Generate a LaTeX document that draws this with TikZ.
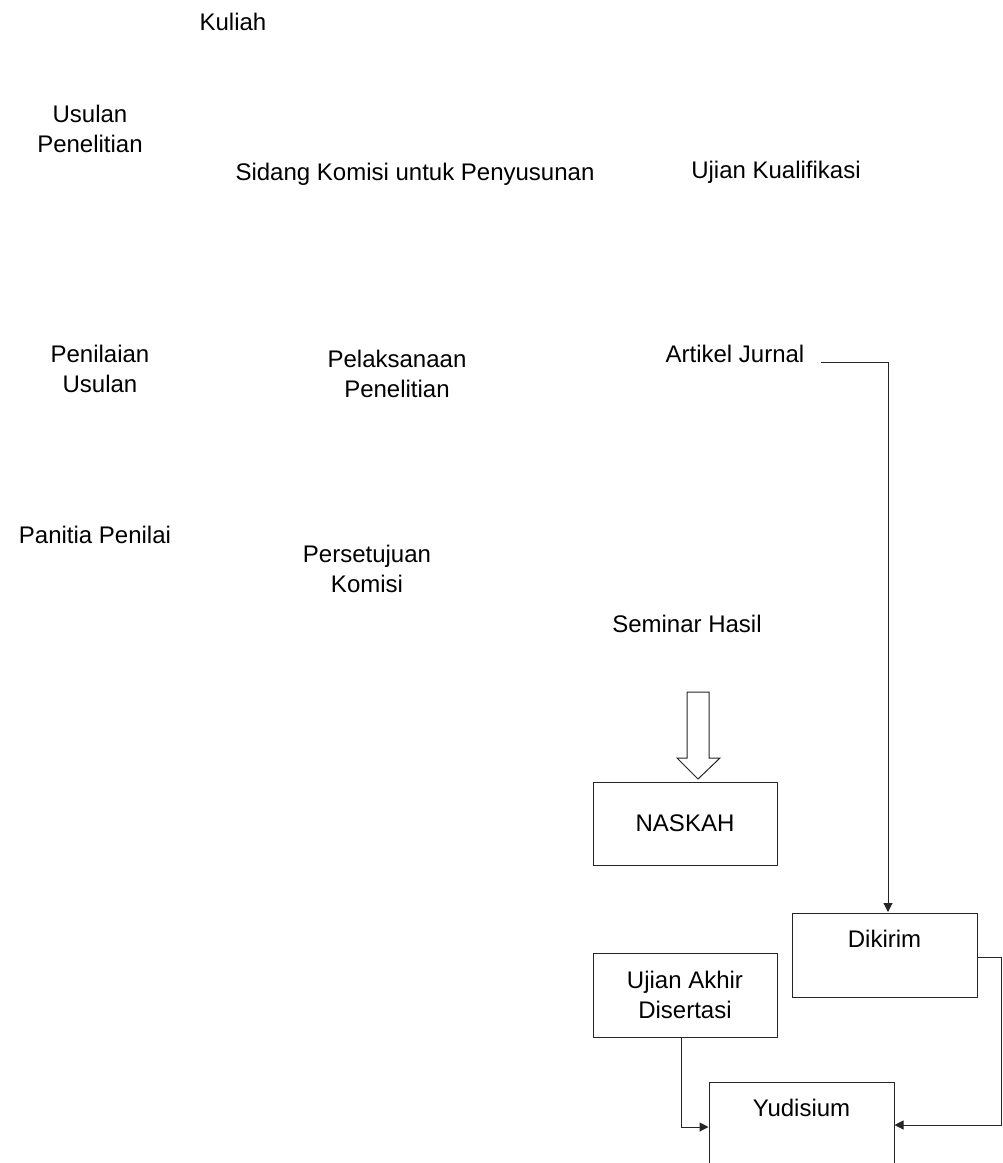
\documentclass[tikz,border=0pt]{standalone}
\usepackage{fontspec}
\setmainfont{Liberation Sans}
\usetikzlibrary{arrows.meta}
\begin{document}
\begin{tikzpicture}[x=1pt,y=-1pt,
  font=\fontsize{24}{29.5}\selectfont,
  lbl/.style={inner sep=0pt,anchor=base,align=center},
  boxnode/.style={draw=black!85,line width=1pt,minimum width=184pt,inner xsep=4pt},
  conn/.style={draw=black!85,line width=1pt,-{Triangle[width=9pt,length=9pt]}}]
\useasboundingbox (0,0) rectangle (1003,1163);
\clip (0,0) rectangle (1003,1163);
\fill[white] (0,0) rectangle (1003,1163);

\node[lbl] (kuliah) at (233,30) {Kuliah};
\node[lbl] (usulan) at (90,152) {Usulan\\Penelitian};
\node[lbl] (sidang) at (415,180) {Sidang Komisi untuk Penyusunan};
\node[lbl] (ujiankual) at (776,178) {Ujian Kualifikasi};
\node[lbl] (penilaian) at (100,392) {Penilaian\\Usulan};
\node[lbl] (pelaksanaan) at (397,397) {Pelaksanaan\\Penelitian};
\node[lbl] (artikel) at (735,362) {Artikel Jurnal};
\node[lbl] (panitia) at (95,543) {Panitia Penilai};
\node[lbl] (persetujuan) at (367,592) {Persetujuan\\Komisi};
\node[lbl] (seminar) at (687,632) {Seminar Hasil};

\node[boxnode,minimum height=83pt] (naskah) at (685,823.5) {NASKAH};
\node[boxnode,minimum width=185pt,anchor=north,text height=18pt,text depth=34pt,inner ysep=16pt] (dikirim) at (884.5,913) {Dikirim};
\node[boxnode,minimum height=84pt,align=center] (akhir) at (685,995) {Ujian Akhir\\Disertasi};
\node[boxnode,minimum width=185pt,anchor=north,text height=18pt,text depth=80pt,inner ysep=16pt] (yudisium) at (801.5,1082) {Yudisium};

% block arrow from Seminar Hasil to NASKAH
\coordinate (tip) at (698,779);
\draw[black!85,line width=1pt,line join=miter,fill=white]
  (687,692) -- (709,692) -- (709,758) -- (720,758) -- (tip)
  -- (677,758) -- (687,758) -- cycle;

% connectors
\coordinate (artend) at (821,362);
\draw[conn] (artend) -- (888,362) -- (888,912);
\draw[conn] (dikirim.east |- 0,957) -- (1001,957) -- (1001,1125) -- (yudisium.east |- 0,1125);
\draw[conn] (akhir.south -| 681,0) -- (681,1127) -- (yudisium.west |- 0,1127);
\end{tikzpicture}
\end{document}
